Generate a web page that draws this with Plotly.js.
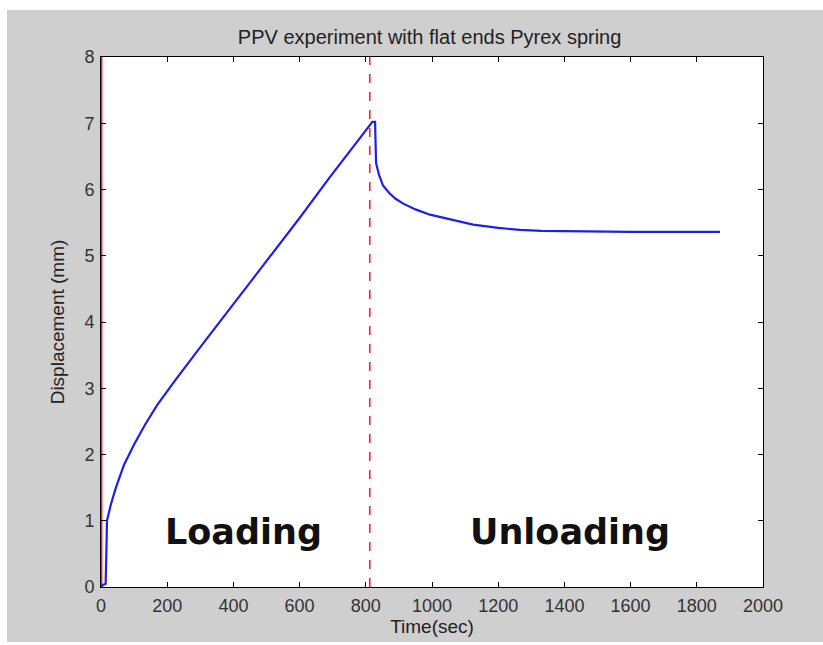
<!DOCTYPE html>
<html>
<head>
<meta charset="utf-8">
<script src="https://cdn.plot.ly/plotly-3.0.1.min.js"></script>
<style>
html,body{margin:0;padding:0;background:#ffffff;}
#bg{position:absolute;left:7px;top:10px;width:816px;height:632px;background:#cfcfcf;}
#chart{position:absolute;left:0;top:0;width:823px;height:645px;}
</style>
</head>
<body>
<div id="bg"></div>
<div id="chart"></div>
<script>
// Displacement vs time
var timeSec = [0, 6, 14, 16, 17, 18, 22, 30, 45, 70, 100, 133, 170, 224, 300, 400, 500, 600, 692, 750, 800, 812, 820, 828, 829, 831, 840, 852, 870, 890, 912, 950, 994, 1054, 1124, 1200, 1266, 1330, 1387, 1500, 1600, 1700, 1800, 1870];
var dispMm  = [0, 0.03, 0.05, 0.3, 0.7, 1.0, 1.08, 1.25, 1.5, 1.85, 2.15, 2.45, 2.75, 3.12, 3.62, 4.27, 4.92, 5.57, 6.19, 6.57, 6.9, 6.98, 7.02, 7.02, 6.7, 6.4, 6.22, 6.06, 5.95, 5.86, 5.79, 5.70, 5.62, 5.55, 5.47, 5.42, 5.39, 5.375, 5.37, 5.365, 5.36, 5.36, 5.36, 5.36];
var boundaryX = [2, 812];
var labels = ["Loading", "Unloading"];
var labelX = [429, 1417];
var labelY = [0.83, 0.83];
var xTicks = [0, 200, 400, 600, 800, 1000, 1200, 1400, 1600, 1800, 2000];
var yTicks = [0, 1, 2, 3, 4, 5, 6, 7, 8];

var traces = [];
boundaryX.forEach(function(bx, i){
  traces.push({x:[bx,bx], y:[0,8], mode:'lines', type:'scatter',
    line:{color:'#e8283c', width:1.6, dash: i === 0 ? 'solid' : 'dash'}, hoverinfo:'skip', showlegend:false});
});
traces.push({x:timeSec, y:dispMm, mode:'lines', type:'scatter',
  line:{color:'#1f1fe6', width:2.2}, showlegend:false});

var ann = labels.map(function(t,i){
  return {x:labelX[i], y:labelY[i], xref:'x', yref:'y', text:'<b>'+t+'</b>', showarrow:false,
    font:{family:'DejaVu Sans', size:35, color:'#111111'}, xanchor:'center', yanchor:'middle'};
});

var tickFont = {family:'Liberation Sans, Arial', size:18, color:'#333333'};
var layout = {
  width:823, height:645,
  margin:{l:101, r:60, t:57, b:58},
  paper_bgcolor:'rgba(0,0,0,0)', plot_bgcolor:'#ffffff',
  title:{text:'PPV experiment with flat ends Pyrex spring', x:0.522, xanchor:'center', y:0.943, yanchor:'middle',
    font:{family:'Liberation Sans, Arial', size:20, color:'#222222'}},
  xaxis:{range:[0,2000], tickvals:xTicks, ticktext:xTicks.map(String), showgrid:false, zeroline:false,
    showline:true, linecolor:'#000000', linewidth:1, mirror:'ticks', ticks:'inside', ticklen:5, tickcolor:'#000000',
    tickfont:tickFont, fixedrange:true, ticklabelstandoff:2,
    title:{text:'Time(sec)', font:{family:'Liberation Sans, Arial', size:19, color:'#222222'}, standoff:2}},
  yaxis:{range:[0,8], tickvals:yTicks, ticktext:yTicks.map(String), showgrid:false, zeroline:false,
    showline:true, linecolor:'#000000', linewidth:1, mirror:'ticks', ticks:'inside', ticklen:5, tickcolor:'#000000',
    tickfont:tickFont, fixedrange:true, ticklabelstandoff:2,
    title:{text:'Displacement (mm)', font:{family:'Liberation Sans, Arial', size:19, color:'#222222'}, standoff:14}},
  annotations:ann
};
Plotly.newPlot('chart', traces, layout, {staticPlot:true, displayModeBar:false});
</script>
</body>
</html>
